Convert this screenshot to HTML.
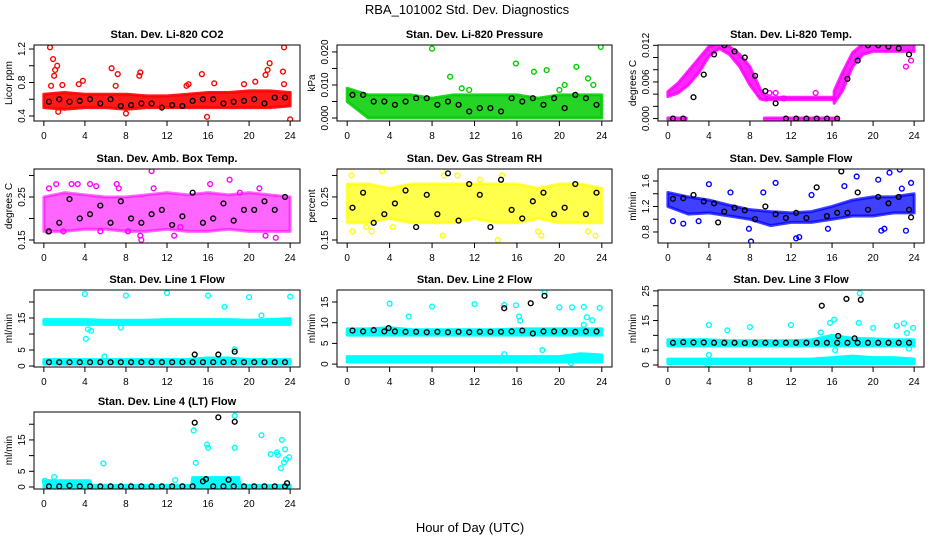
<!DOCTYPE html>
<html><head><meta charset="utf-8">
<style>
html,body{margin:0;padding:0;background:#fff;}
svg{display:block;font-family:"Liberation Sans",Arial,sans-serif;}
</style></head>
<body>
<svg id="chart" width="936" height="540" viewBox="0 0 936 540" xmlns="http://www.w3.org/2000/svg">
<rect x="0" y="0" width="936" height="540" fill="#fff"/>
<text x="467" y="14" font-size="13" text-anchor="middle">RBA_101002  Std. Dev. Diagnostics</text>
<text x="470" y="532" font-size="13" text-anchor="middle">Hour of Day (UTC)</text>
</svg>
<script>
// shared x data
const bandHours = [0,2,4,6,8,10,12,14,16,18,20,22,24];
const blackHours = [0.5,1.5,2.5,3.5,4.5,5.5,6.5,7.5,8.5,9.5,10.5,11.5,12.5,13.5,14.5,15.5,16.5,17.5,18.5,19.5,20.5,21.5,22.5,23.5];
const xTicks = [0,4,8,12,16,20,24];

// CO2
const co2Lo = [0.5,0.48,0.5,0.5,0.48,0.5,0.5,0.5,0.5,0.5,0.5,0.5,0.52];
const co2Hi = [0.66,0.68,0.66,0.66,0.66,0.64,0.64,0.66,0.68,0.68,0.7,0.7,0.68];
const co2Black = [0.57,0.6,0.57,0.58,0.6,0.55,0.6,0.52,0.53,0.55,0.55,0.5,0.53,0.52,0.58,0.6,0.6,0.55,0.57,0.58,0.6,0.55,0.62,0.62];
const co2OutX = [0.6,0.9,1.3,1.1,1.0,0.7,1.8,3.4,3.8,6.6,7.2,7.0,9.3,9.4,15.4,14.1,13.9,16.6,15.9,21.6,21.8,22,23.4,23.3,23.4,24,20.6,19.5,8,1.4];
const co2OutY = [1.22,1.08,1.0,0.95,0.88,0.76,0.77,0.78,0.82,0.97,0.9,0.76,0.88,0.92,0.9,0.78,0.76,0.79,0.39,0.89,0.95,1.03,1.22,0.93,0.78,0.36,0.81,0.78,0.43,0.45];

// Pressure
const presLo = [0.005,0,0,0,0,0,0,0,0,0,0,0,0];
const presHi = [0.009,0.007,0.007,0.007,0.006,0.007,0.007,0.007,0.007,0.006,0.007,0.007,0.007];
const presBlack = [0.007,0.007,0.005,0.005,0.004,0.005,0.006,0.006,0.004,0.005,0.004,0.002,0.003,0.003,0.002,0.006,0.005,0.006,0.004,0.006,0.003,0.007,0.006,0.004];
const presOutX = [8,9.7,15.9,17.6,18.8,21.6,22.7,23.9,10.8,11.5,20.0,20.5,23.2];
const presOutY = [0.021,0.0125,0.0165,0.014,0.0145,0.0155,0.012,0.0215,0.009,0.0085,0.0085,0.010,0.010];

// Li-820 Temp (several bands)
const tempHoursA = [0,1,2,3,4,5,6,7,8,9,9.6];
const tempLoA = [0.0036,0.0042,0.0055,0.0075,0.0102,0.0115,0.0105,0.0085,0.0055,0.0032,0.003];
const tempHiA = [0.0044,0.0058,0.0078,0.0098,0.0118,0.0124,0.0118,0.0105,0.0085,0.0048,0.0036];
const tempHoursB = [16.2,17,18,19,20,22,24];
const tempLoB = [0.0025,0.0045,0.0085,0.0105,0.011,0.011,0.011];
const tempHiB = [0.0045,0.0075,0.0108,0.0122,0.0124,0.0124,0.0124];
const tempHoursC = [9.6,16.2];
const tempLoC = [0.0031,0.0031];
const tempHiC = [0.0035,0.0035];
const tempHoursZ1 = [0,1.8];
const tempHoursZ2 = [9.4,16.6];
const tempZeroLo = [-0.0001,-0.0001];
const tempZeroHi = [0.0001,0.0001];
const tempBlack = [0,0,0.0035,0.0072,0.0105,0.012,0.011,0.01,0.007,0.0045,0.0025,0,0,0,0,0,0,0.0065,0.0095,0.012,0.012,0.0118,0.0115,0.0105];
const tempOutX = [23.2,23.7,9.9,10.5,11.3,14.4];
const tempOutY = [0.0085,0.0095,0.0042,0.0042,0.0033,0.0042];

// Ambient box temp
const boxLo = [0.17,0.17,0.175,0.175,0.17,0.17,0.175,0.17,0.17,0.175,0.17,0.17,0.17];
const boxHi = [0.25,0.26,0.255,0.25,0.25,0.255,0.26,0.255,0.26,0.255,0.26,0.255,0.25];
const boxBlack = [0.17,0.19,0.245,0.2,0.21,0.23,0.19,0.24,0.2,0.19,0.21,0.22,0.185,0.205,0.26,0.19,0.2,0.235,0.195,0.22,0.22,0.24,0.22,0.25];
const boxOutX = [0.5,1.2,2.7,3.3,4.5,5.1,7.1,7.3,9.4,9.5,10.5,10.7,12.7,13.3,16.2,18.1,19.1,21,21.6,22.6,0.4,1.9,5.5,8.2];
const boxOutY = [0.27,0.28,0.28,0.28,0.28,0.275,0.28,0.27,0.16,0.15,0.31,0.27,0.16,0.18,0.28,0.29,0.26,0.27,0.16,0.155,0.17,0.17,0.17,0.17];

// Gas stream RH
const rhLo = [0.19,0.19,0.2,0.19,0.19,0.19,0.2,0.19,0.19,0.2,0.19,0.19,0.19];
const rhHi = [0.28,0.28,0.27,0.28,0.28,0.28,0.28,0.28,0.28,0.27,0.28,0.28,0.27];
const rhBlack = [0.225,0.26,0.19,0.21,0.235,0.265,0.18,0.255,0.21,0.305,0.195,0.28,0.255,0.18,0.29,0.22,0.2,0.24,0.26,0.21,0.225,0.28,0.21,0.26];
const rhOutX = [0.5,1.8,2.3,3.3,4.3,9,9.1,10.4,14.2,14.6,18,18.3,23.4,22.7,0.4,12.5];
const rhOutY = [0.17,0.18,0.17,0.31,0.18,0.16,0.3,0.3,0.15,0.3,0.17,0.16,0.16,0.17,0.3,0.29];

// Sample flow
const flowLo = [1.2,1.08,1.1,1.05,1.0,0.9,0.95,0.95,1.0,1.05,1.05,1.1,1.1];
const flowHi = [1.42,1.35,1.3,1.22,1.15,1.12,1.1,1.12,1.2,1.3,1.35,1.35,1.4];
const flowBlack = [1.32,1.33,1.38,1.28,1.25,1.12,1.18,1.14,1.0,1.2,1.08,1.02,1.1,1.02,1.5,1.05,1.1,1.1,1.42,1.15,1.35,1.25,1.35,1.15];
const flowBlackExX = [16.9,23.7,4.9];
const flowBlackExY = [1.75,1.03,0.95];
const flowOutX = [0.5,1.5,3.0,4,6.1,9.3,10.5,7.9,8.1,12.5,12.8,14,15.6,17.2,18.4,20.5,21.6,22.6,22.8,23.7,23.2,21.1,20.8];
const flowOutY = [0.97,0.93,0.97,1.55,1.42,1.42,1.57,0.85,0.65,0.7,0.72,1.38,0.85,1.52,1.67,1.62,1.73,1.78,1.48,1.57,0.82,0.85,0.82];

// Line 1 flow
const l1LoA = [13,13,13,13,13,13,13,13,13,13,13,13,13];
const l1HiA = [14.5,14.5,14.5,14.3,14.3,14.3,14.5,14.5,14.5,14.5,14.3,14.5,14.8];
const l1LoB = [0.6,0.6,0.6,0.6,0.6,0.6,0.6,0.6,0.6,0.6,0.6,0.6,0.6];
const l1HiB = [2,2,2,2,2,2,2,2,2.5,2.5,2,2,2];
const l1Black = [1.2,1.2,1.2,1.2,1.2,1.2,1.2,1.2,1.2,1.2,1.2,1.2,1.2,1.2,1.2,1.2,1.2,1.2,1.2,1.2,1.2,1.2,1.2,1.2];
const l1BlackExX = [14.7,17,18.6];
const l1BlackExY = [3.6,3.6,4.5];
const l1OutX = [4,8,12,16,20,24,17.6,21.2,4.1,4.3,4.6,7.5,5.9,18.6];
const l1OutY = [22.5,22,22.8,22,21.5,21.7,18.5,15.8,8.5,11.5,11,12,3,5.2];

// Line 2 flow
const l2LoA = [7,7,7,7,7,7,7,7,7,7,7,7,7];
const l2HiA = [8.5,8.5,8.8,8.3,8.3,8.3,8.3,8.3,8.5,8.5,8.5,8.5,8.5];
const l2LoB = [0.5,0.5,0.5,0.5,0.5,0.5,0.5,0.5,0.5,0.5,0.5,0.5,0.5];
const l2HiB = [1.8,1.8,1.8,1.8,1.8,1.8,1.8,1.8,1.8,1.8,1.8,2.5,2.2];
const l2Black = [8.1,7.9,8.2,7.9,7.9,7.8,7.8,7.7,7.8,7.7,7.8,7.7,7.8,7.8,7.8,7.9,8.1,7.4,7.9,7.9,7.9,7.8,7.9,7.9];
const l2BlackExX = [14.8,17.3,18.6,3.9];
const l2BlackExY = [13.5,14.7,16.5,8.7];
const l2OutX = [4,5.8,8,12,14.8,15.9,16.2,16.3,18.6,20,21.2,22.3,22.6,23.1,23.8,18.4,22.3,14.8,21.1];
const l2OutY = [14.6,11.5,13.9,14.5,14.3,14.2,11.5,10.5,17.5,13.7,13.7,13.8,11.3,10.6,13.6,3.4,9.5,2.4,0.2];

// Line 3 flow
const l3LoA = [6.5,6.5,6.5,6.5,6.5,6.5,6.5,6.5,6.5,6.5,6.5,6.5,6.5];
const l3HiA = [8.5,8.5,8.5,8.2,8.2,8.2,8.2,8.5,10,9,8.8,8.5,8.5];
const l3LoB = [0.5,0.5,0.5,0.5,0.5,0.5,0.5,0.5,0.5,0.5,0.5,0.5,0.5];
const l3HiB = [2,2,2,2,2,2,2,2,2.5,3,2.5,2.5,2];
const l3Black = [7.5,7.7,7.6,7.6,7.5,7.5,7.5,7.4,7.5,7.5,7.5,7.5,7.5,7.5,7.5,7.5,7.5,7.5,7.5,7.5,7.5,7.5,7.5,7.5];
const l3BlackExX = [15,17.4,18.8,18.2,16.6];
const l3BlackExY = [20,22.3,22,9,9.8];
const l3OutX = [4,5.8,8,12,14.9,15.8,16.2,16.3,18.7,18.6,20,22.3,23,23.3,23.9,4,3.9,23.5,23.4];
const l3OutY = [13.5,11.7,12.8,13.5,11,14.2,15.3,5,24.2,14.2,12.5,13.2,14,10.8,12.5,3.4,0.2,5.5,1.5];

// Line 4 flow
const l4Hours = [0,4.5,4.6,14.4,14.5,19,19.1,24];
const l4Lo = [0,0,0,0,0,0,0,0];
const l4Hi = [2,2,0.5,0.5,3,3,0.5,0.5];
const l4Black = [0.2,0.2,0.4,0.2,0.2,0.2,0.2,0.2,0.2,0.2,0.2,0.2,0.2,0.2,0.2,1.8,0.2,0.2,0.2,0.2,0.2,0.2,0.2,0.2];
const l4BlackExX = [14.7,17,18.6,15.8,18,23.7];
const l4BlackExY = [20.5,22.2,20.8,2.5,2.3,1.2];
const l4OutX = [14.6,18.6,18.6,15.9,16,14.8,5.8,21.2,22.1,22.7,22.8,23.2,23.5,23.1,23.4,23.6,23.9,1.0,0.1,12.8];
const l4OutY = [18,22.7,12.5,13.5,12.5,7.7,7.5,16.5,10.5,11,10.2,15,12,6,7.8,8.8,9.5,3.2,2,2.2];

const colLeft = [34,337,658], colRight = [300,612,924];
const rowTop = [45,169,290,412], rowBottom = [121,243,367,489];

const panels = [
 {id:'co2',title:'Stan. Dev. Li-820 CO2',ylab:'Licor ppm',c:0,r:0,color:'#ff0000',op:0.9,ylim:[0.34,1.248],yt:[0.4,0.6,0.8,1.0,1.2],yl:['0.4','','0.8','','1.2'],
  bands:[[bandHours,co2Lo,co2Hi]],outX:co2OutX,outY:co2OutY,blackY:co2Black},
 {id:'pressure',title:'Stan. Dev. Li-820 Pressure',ylab:'kPa',c:1,r:0,color:'#00cd00',op:0.85,ylim:[-0.0009,0.0221],yt:[0,0.005,0.01,0.015,0.02],yl:['0.000','','0.010','','0.020'],
  bands:[[bandHours,presLo,presHi]],outX:presOutX,outY:presOutY,blackY:presBlack},
 {id:'li820-temp',title:'Stan. Dev. Li-820 Temp.',ylab:'degrees C',c:2,r:0,color:'#ff00ff',op:0.85,ylim:[-0.0004,0.01205],yt:[0,0.002,0.004,0.006,0.008,0.01,0.012],yl:['0.000','','','0.006','','','0.012'],
  bands:[[tempHoursA,tempLoA,tempHiA],[tempHoursB,tempLoB,tempHiB],[tempHoursC,tempLoC,tempHiC],[tempHoursZ1,tempZeroLo,tempZeroHi],[tempHoursZ2,tempZeroLo,tempZeroHi]],outX:tempOutX,outY:tempOutY,blackY:tempBlack},
 {id:'box-temp',title:'Stan. Dev. Amb. Box Temp.',ylab:'degrees C',c:0,r:1,color:'#ff00ff',op:0.6,ylim:[0.143,0.315],yt:[0.15,0.2,0.25,0.3],yl:['0.15','','0.25',''],
  bands:[[bandHours,boxLo,boxHi]],outX:boxOutX,outY:boxOutY,blackY:boxBlack},
 {id:'gas-rh',title:'Stan. Dev. Gas Stream RH',ylab:'percent',c:1,r:1,color:'#ffff00',op:0.7,ylim:[0.143,0.315],yt:[0.15,0.2,0.25,0.3],yl:['0.15','','0.25',''],
  bands:[[bandHours,rhLo,rhHi]],outX:rhOutX,outY:rhOutY,blackY:rhBlack},
 {id:'sample-flow',title:'Stan. Dev. Sample Flow',ylab:'ml/min',c:2,r:1,color:'#0000ff',op:0.75,ylim:[0.627,1.788],yt:[0.8,1.0,1.2,1.4,1.6],yl:['0.8','','1.2','','1.6'],
  bands:[[bandHours,flowLo,flowHi]],outX:flowOutX,outY:flowOutY,blackY:flowBlack,bx:flowBlackExX,by:flowBlackExY},
 {id:'line1-flow',title:'Stan. Dev. Line 1 Flow',ylab:'ml/min',c:0,r:2,color:'#00ffff',op:1,ylim:[-0.3,23.75],yt:[0,5,10,15,20],yl:['0','5','','15',''],
  bands:[[bandHours,l1LoA,l1HiA],[bandHours,l1LoB,l1HiB]],outX:l1OutX,outY:l1OutY,blackY:l1Black,bx:l1BlackExX,by:l1BlackExY},
 {id:'line2-flow',title:'Stan. Dev. Line 2 Flow',ylab:'ml/min',c:1,r:2,color:'#00ffff',op:1,ylim:[-0.7,17.9],yt:[0,5,10,15],yl:['0','5','10','15'],
  bands:[[bandHours,l2LoA,l2HiA],[bandHours,l2LoB,l2HiB]],outX:l2OutX,outY:l2OutY,blackY:l2Black,bx:l2BlackExX,by:l2BlackExY},
 {id:'line3-flow',title:'Stan. Dev. Line 3 Flow',ylab:'ml/min',c:2,r:2,color:'#00ffff',op:1,ylim:[-0.67,25.3],yt:[0,5,10,15,20,25],yl:['0','5','','15','','25'],
  bands:[[bandHours,l3LoA,l3HiA],[bandHours,l3LoB,l3HiB]],outX:l3OutX,outY:l3OutY,blackY:l3Black,bx:l3BlackExX,by:l3BlackExY},
 {id:'line4-flow',title:'Stan. Dev. Line 4 (LT) Flow',ylab:'ml/min',c:0,r:3,color:'#00ffff',op:1,ylim:[-0.64,23.9],yt:[0,5,10,15,20],yl:['0','5','','15',''],
  bands:[[l4Hours,l4Lo,l4Hi]],outX:l4OutX,outY:l4OutY,blackY:l4Black,bx:l4BlackExX,by:l4BlackExY}
];

const NS='http://www.w3.org/2000/svg';
const svg=document.getElementById('chart');
function mk(tag,attrs,parent){const e=document.createElementNS(NS,tag);for(const k in attrs)e.setAttribute(k,attrs[k]);(parent||svg).appendChild(e);return e;}

panels.forEach(p=>{
  const L=colLeft[p.c],R=colRight[p.c],T=rowTop[p.r],B=rowBottom[p.r];
  const sx=h=>L+(h+0.96)/25.92*(R-L);
  const sy=v=>B-(v-p.ylim[0])/(p.ylim[1]-p.ylim[0])*(B-T);
  const g=mk('g',{});
  
  
  const clip=mk('clipPath',{id:'clip-'+p.id},g);
  mk('rect',{x:L,y:T,width:R-L,height:B-T},clip);
  const marks=mk('g',{'clip-path':'url(#clip-'+p.id+')'},g);
  p.bands.forEach((b,i)=>{
    const [xs,lo,hi]=b;
    let pts=xs.map((x,j)=>sx(x)+','+sy(hi[j]));
    for(let j=xs.length-1;j>=0;j--)pts.push(sx(xs[j])+','+sy(lo[j]));
    const poly=mk('polygon',{points:pts.join(' '),fill:p.color,'fill-opacity':p.op,stroke:p.color,'stroke-opacity':p.op,'stroke-width':3,'stroke-linejoin':'round'},marks);
    
    
  });
  p.outX.forEach((x,j)=>{
    const c=mk('circle',{cx:sx(x),cy:sy(p.outY[j]),r:2.4,fill:'none',stroke:p.color,'stroke-width':1.4},marks);
    
    
  });
  p.blackY.forEach((v,j)=>{
    const c=mk('circle',{cx:sx(blackHours[j]),cy:sy(v),r:2.4,fill:'none',stroke:'#000','stroke-width':1.4},marks);
    
    
  });
  if(p.bx)p.bx.forEach((x,j)=>{
    const c=mk('circle',{cx:sx(x),cy:sy(p.by[j]),r:2.4,fill:'none',stroke:'#000','stroke-width':1.4},marks);
    
    
  });
  const box=mk('rect',{x:L,y:T,width:R-L,height:B-T,fill:'none',stroke:'#000','stroke-width':1},g);
  
  
  const t=mk('text',{x:(L+R)/2,y:T-7,'font-size':11,'font-weight':'bold','text-anchor':'middle'},g);
  t.textContent=p.title;
  
  
  mk('line',{x1:sx(0),x2:sx(24),y1:B,y2:B,stroke:'#000'},g);
  xTicks.forEach(v=>{
    mk('line',{x1:sx(v),x2:sx(v),y1:B,y2:B+5,stroke:'#000'},g);
    const tl=mk('text',{x:sx(v),y:B+18,'font-size':10,'text-anchor':'middle'},g);
    tl.textContent=v;
    
    
  });
  mk('line',{x1:L,x2:L,y1:sy(p.yt[0]),y2:sy(p.yt[p.yt.length-1]),stroke:'#000'},g);
  p.yt.forEach((v,j)=>{
    mk('line',{x1:L-5,x2:L,y1:sy(v),y2:sy(v),stroke:'#000'},g);
    if(p.yl[j]){
      const tl=mk('text',{x:0,y:0,'font-size':10,'text-anchor':'middle',transform:'translate('+(L-9)+','+sy(v)+') rotate(-90)'},g);
      tl.textContent=p.yl[j];
      
      
    }
  });
  const yl=mk('text',{x:0,y:0,'font-size':10,'text-anchor':'middle',transform:'translate('+(L-22)+','+((T+B)/2)+') rotate(-90)'},g);
  yl.textContent=p.ylab;
  
  
});
</script>
</body></html>
